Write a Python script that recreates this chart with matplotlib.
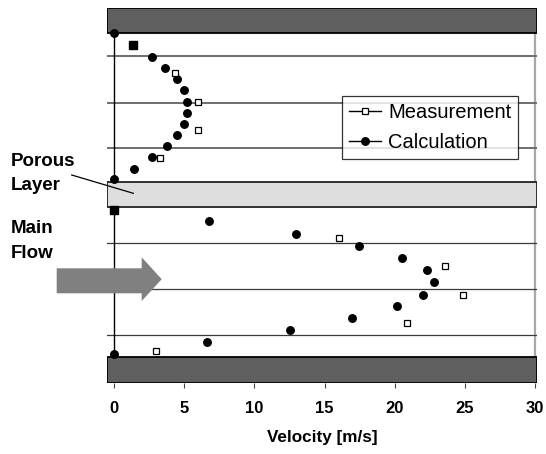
import matplotlib
matplotlib.use("Agg")
import matplotlib.pyplot as plt
from matplotlib.lines import Line2D
from matplotlib.patches import Polygon

plt.rcParams['font.family'] = ['Liberation Sans', 'DejaVu Sans']

# ---- data (velocity in m/s, height in arbitrary units from bottom wall) ----
calc_upper_v = [0, 2.68, 3.66, 4.47, 4.99, 5.20, 5.20, 4.99, 4.47, 3.75, 2.68, 1.43, 0]
calc_upper_y = [35.0, 32.66, 31.53, 30.40, 29.33, 28.16, 27.06, 25.93, 24.83, 23.73, 22.60, 21.43, 20.40]
calc_lower_v = [6.79, 12.97, 17.44, 20.55, 22.33, 22.81, 22.05, 20.15, 16.96, 12.54, 6.63, 0]
calc_lower_y = [16.2, 14.96, 13.76, 12.53, 11.3, 10.1, 8.83, 7.7, 6.5, 5.36, 4.13, 2.93]

meas_v = [4.35, 5.96, 5.96, 3.28, 16.06, 23.62, 24.88, 20.88, 2.97]
meas_y = [31.06, 28.1, 25.3, 22.5, 14.53, 11.76, 8.83, 6.06, 3.23]
meas_wall_v = [1.33, 0]
meas_wall_y = [33.83, 17.33]

# geometry (height units)
bottom_band = (0.0, 2.67)
porous_band = (17.6, 20.13)
top_band = (35.0, 37.5)
upper_lines = [32.76, 28.06, 23.5]
lower_lines = [14.06, 9.4, 4.8]

xticks = [0, 5, 10, 15, 20, 25, 30]

W, H = 546, 454
fig = plt.figure(figsize=(W / 100, H / 100), dpi=100)
ax = fig.add_axes([107 / W, 1 - 383.3 / H, (537 - 107) / W, 375 / H])
ax.set_xlim(-0.5, 30.14)
ax.set_ylim(0, 37.5)
for s in ax.spines.values():
    s.set_visible(False)

# right border line
ax.plot([30, 30], [0, 37.5], color='#a8a8a8', lw=1.6, zorder=1)

# grid lines
for y in upper_lines:
    ax.axhline(y, color='#6e6e6e', lw=1.4, zorder=1)
for y in lower_lines:
    ax.axhline(y, color='#3a3a3a', lw=0.9, zorder=1)

# wall line at x=0
ax.plot([0, 0], [bottom_band[1], top_band[0]], color='black', lw=1.0, zorder=2)

# bands
ax.axhspan(*top_band, facecolor='#5f5f5f', edgecolor='black', lw=1.3, zorder=3)
ax.axhspan(*bottom_band, facecolor='#5f5f5f', edgecolor='black', lw=1.3, zorder=3)
ax.axhspan(*porous_band, facecolor='#dedede', edgecolor='#222222', lw=1.3, zorder=3)

# data
ax.plot(calc_upper_v, calc_upper_y, ls='none', marker='o', ms=5.4, color='black', zorder=5)
ax.plot(calc_lower_v, calc_lower_y, ls='none', marker='o', ms=5.4, color='black', zorder=5)
ax.plot(meas_v, meas_y, ls='none', marker='s', ms=5.0, mfc='white', mec='black', mew=0.9, zorder=5)
ax.plot(meas_wall_v, meas_wall_y, ls='none', marker='s', ms=5.2, color='black', zorder=5)

# axis
ax.set_xticks(xticks)
ax.set_xticklabels([str(t) for t in xticks], fontsize=12, fontweight='bold')
ax.set_yticks([])
ax.tick_params(axis='x', direction='out', length=3.6, width=0.8, pad=9, color='#444444')
ax.set_xlabel('Velocity [m/s]', fontsize=12.3, fontweight='bold', labelpad=10)

# legend
handles = [
    Line2D([], [], color='black', lw=1.0, marker='s', ms=5, mfc='white', mec='black', mew=0.9),
    Line2D([], [], color='black', lw=1.0, marker='o', ms=5.4),
]
leg = ax.legend(handles, ['Measurement', 'Calculation'], loc='upper left',
                bbox_to_anchor=(341.7 / W, 1 - 95.7 / H), bbox_transform=fig.transFigure,
                borderaxespad=0, fontsize=14.5, frameon=True, fancybox=False,
                handlelength=1.6, handletextpad=0.35, borderpad=0.35, labelspacing=0.58)
leg.get_frame().set_edgecolor('black')
leg.get_frame().set_linewidth(0.9)
leg.set_zorder(6)

# annotations (figure pixel coordinates)
def fx(px):
    return px / W

def fy(py):
    return 1 - py / H

fig.text(fx(11), fy(152.5), 'Porous\nLayer', fontsize=13.5, fontweight='bold',
         va='top', ha='left', linespacing=1.55)
fig.text(fx(11), fy(220.5), 'Main\nFlow', fontsize=13.5, fontweight='bold',
         va='top', ha='left', linespacing=1.55)
fig.add_artist(Line2D([fx(71.7), fx(133.3)], [fy(175), fy(193.3)], color='black', lw=0.9,
                      transform=fig.transFigure, zorder=10))
arrow = [(56.7, 268.3), (141.7, 268.3), (141.7, 257.3), (161.7, 279.2),
         (141.7, 301), (141.7, 293.3), (56.7, 293.3)]
fig.add_artist(Polygon([(fx(a), fy(b)) for a, b in arrow], closed=True, facecolor='#808080',
                       edgecolor='none', transform=fig.transFigure, zorder=10))

fig.savefig('out.png', dpi=100)
